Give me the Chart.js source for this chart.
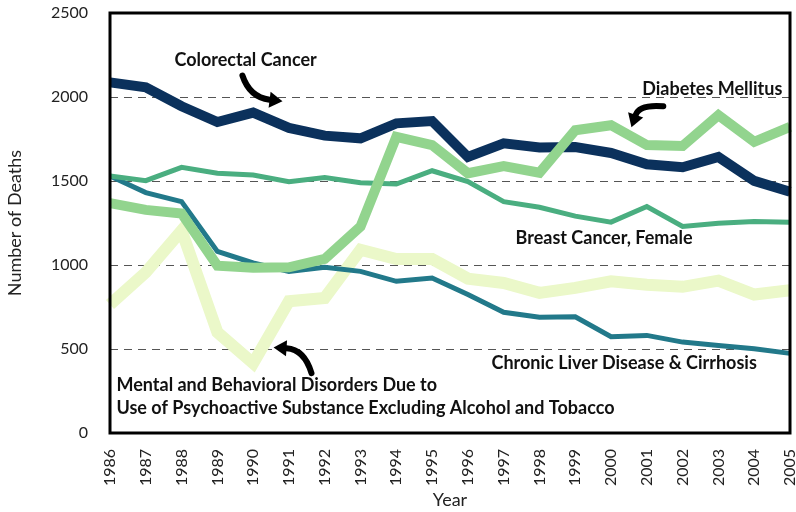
<!DOCTYPE html>
<html><head><meta charset="utf-8">
<script src="https://cdn.jsdelivr.net/npm/chart.js@4/dist/chart.umd.min.js"></script>
<style>html,body{margin:0;padding:0;background:#fff}</style>
</head><body>
<canvas id="c" width="796" height="512" style="width:796px;height:512px;display:block"></canvas>
<script>
const years = ['1986','1987','1988','1989','1990','1991','1992','1993','1994','1995','1996','1997','1998','1999','2000','2001','2002','2003','2004','2005'];
const colorectal = [2087,2058,1945,1851,1907,1816,1770,1754,1843,1857,1643,1724,1700,1702,1667,1600,1582,1643,1501,1436];
const diabetes   = [1368,1328,1307,996,984,986,1036,1229,1763,1714,1546,1589,1549,1802,1832,1714,1708,1892,1733,1822];
const breast     = [1530,1502,1581,1546,1536,1496,1520,1490,1482,1561,1496,1377,1344,1291,1255,1348,1229,1249,1259,1255];
const liver      = [1530,1431,1377,1081,1012,962,986,962,903,923,824,719,689,692,573,581,541,521,502,474];
const mental     = [765,956,1205,600,415,784,804,1091,1036,1036,919,893,834,864,903,883,870,907,824,850];
const yTicks = [0,500,1000,1500,2000,2500];

const labelsText = [
  {t:'Colorectal Cancer', x:1.80, y:2218},
  {t:'Diabetes Mellitus', x:14.87, y:2045},
  {t:'Breast Cancer, Female', x:11.33, y:1162},
  {t:'Chronic Liver Disease & Cirrhosis', x:10.66, y:415},
  {t:'Mental and Behavioral Disorders Due to', x:0.18, y:284},
  {t:'Use of Psychoactive Substance Excluding Alcohol and Tobacco', x:0.18, y:148}
];
const arrows = [
  {tail:[3.70,2128], ctrl:[3.90,1999], tip:[4.82,1974]},
  {tail:[15.46,1945], ctrl:[14.79,1957], tip:[14.57,1820]},
  {tail:[5.63,356], ctrl:[5.43,497], tip:[4.57,509]}
];

const annot = {
  id:'annot',
  afterDatasetsDraw(chart){
    const ctx = chart.ctx, xs = chart.scales.x, ys = chart.scales.y;
    const P = (p)=>[xs.getPixelForValue(p[0]), ys.getPixelForValue(p[1])];
    ctx.save();
    ctx.fillStyle = '#111';
    ctx.font = 'bold 18px Lato';
    ctx.textAlign = 'left'; ctx.textBaseline = 'middle';
    labelsText.forEach(l=>{ ctx.fillText(l.t, xs.getPixelForValue(l.x), ys.getPixelForValue(l.y)); });
    arrows.forEach(a=>{
      const t=P(a.tail), c=P(a.ctrl), h=P(a.tip);
      const ang = Math.atan2(h[1]-c[1], h[0]-c[0]);
      const L=13, W=8;
      const bx = h[0]-L*Math.cos(ang), by = h[1]-L*Math.sin(ang);
      ctx.strokeStyle='#000'; ctx.lineWidth=6; ctx.lineCap='round';
      ctx.beginPath(); ctx.moveTo(t[0],t[1]); ctx.quadraticCurveTo(c[0],c[1],bx,by); ctx.stroke();
      ctx.fillStyle='#000';
      ctx.beginPath();
      ctx.moveTo(h[0],h[1]);
      ctx.lineTo(bx + W*Math.sin(ang), by - W*Math.cos(ang));
      ctx.lineTo(bx - W*Math.sin(ang), by + W*Math.cos(ang));
      ctx.closePath(); ctx.fill();
    });
    const ca = chart.chartArea;
    ctx.strokeStyle='#000'; ctx.lineWidth=3;
    ctx.strokeRect(ca.left, ca.top, ca.right-ca.left, ca.bottom-ca.top);
    ctx.restore();
  }
};

const grid = {
  id:'grid',
  beforeDatasetsDraw(chart){
    const ctx=chart.ctx, ys=chart.scales.y, ca=chart.chartArea;
    ctx.save();
    ctx.strokeStyle='#555'; ctx.lineWidth=1; ctx.setLineDash([8,6]);
    yTicks.filter(v=>v>0 && v<2500).forEach(v=>{
      const y=Math.round(ys.getPixelForValue(v))+0.5;
      ctx.beginPath(); ctx.moveTo(ca.left,y); ctx.lineTo(ca.right,y); ctx.stroke();
    });
    ctx.restore();
  }
};

const mk = (label,data,color,w)=>({label,data,borderColor:color,backgroundColor:color,borderWidth:w,pointRadius:0,tension:0,fill:false,borderJoinStyle:'miter',borderCapStyle:'butt'});

new Chart(document.getElementById('c'),{
  type:'line',
  data:{labels:years,datasets:[
    mk('Diabetes Mellitus',diabetes,'#92d48e',10),
    mk('Colorectal Cancer',colorectal,'#0b315c',10),
    mk('Breast Cancer, Female',breast,'#4aae80',5),
    mk('Chronic Liver Disease & Cirrhosis',liver,'#22798a',5),
    mk('Mental and Behavioral Disorders',mental,'#ebf8c9',12)
  ]},
  options:{
    responsive:false, animation:false, devicePixelRatio:1,
    layout:{padding:{left:0,right:6,top:13,bottom:0}},
    plugins:{legend:{display:false},tooltip:{enabled:false}},
    scales:{
      x:{offset:false,
        grid:{display:false},border:{display:false},
        ticks:{maxRotation:90,minRotation:90,autoSkip:false,padding:8,color:'#222',font:{family:'Lato',size:16}},
        title:{display:true,text:'Year',color:'#222',font:{family:'Lato',size:18},padding:{top:4,bottom:1}},
        afterFit(s){s.height=79;s.paddingLeft=0;s.paddingRight=0;}
      },
      y:{min:0,max:2500,
        grid:{display:false},border:{display:false},
        afterBuildTicks(s){s.ticks=yTicks.map(v=>({value:v}));},
        ticks:{padding:14,color:'#222',font:{family:'Lato',size:16},callback:(v)=>String(v)},
        title:{display:true,text:'Number of Deaths',color:'#222',font:{family:'Lato',size:18},padding:{bottom:4}},
        afterFit(s){s.width=110;s.paddingTop=0;s.paddingBottom=0;}
      }
    }
  },
  plugins:[grid,annot]
});
</script>
</body></html>
